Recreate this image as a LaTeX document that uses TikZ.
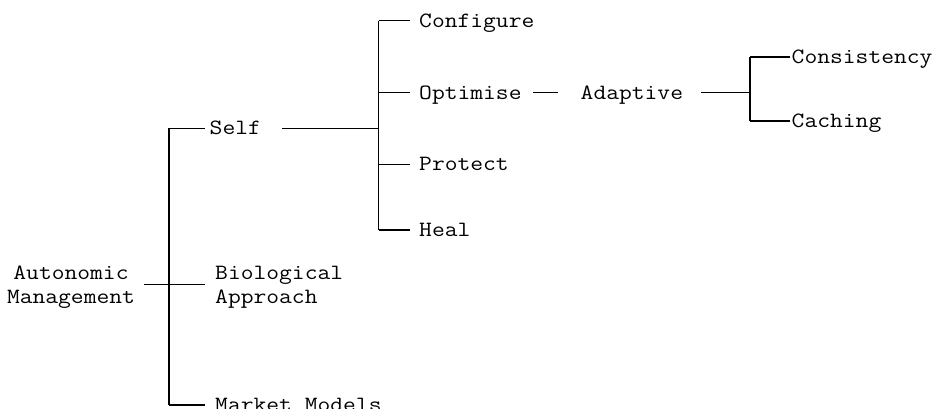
\documentclass[tikz,border=0pt]{standalone}
\usepackage{fontspec}
\setmonofont{Latin Modern Mono}[FakeStretch=1.14]
\begin{document}
\begin{tikzpicture}[x=1pt,y=-1pt,
  every node/.style={font=\ttfamily\fontsize{21.8pt}{24pt}\selectfont, inner sep=0pt},
  leaf/.style={anchor=west, text height=13pt, text depth=0pt},
  block/.style={align=left, anchor=west},
  conn/.style={line width=1.4pt}]
\useasboundingbox (0,0) rectangle (932,409);
\clip (0,0) rectangle (932,409);

% tree labels
\node[align=center] (root) at (71,287) {Autonomic\\Management};
\node[leaf] (self) at (209.5,128.3) {Self};
\node[block] (bio) at (215,287) {Biological\\Approach};
\node[leaf] (market) at (215,405) {Market Models};
\node[leaf] (conf) at (419,20.7) {Configure};
\node[leaf] (opt) at (419,92.7) {Optimise};
\node[leaf] (prot) at (419,164.3) {Protect};
\node[leaf] (heal) at (419,230) {Heal};
\node[leaf] (adapt) at (580.5,92.7) {Adaptive};
\node[leaf] (cons) at (791.5,57) {Consistency};
\node[leaf] (cach) at (791.5,121) {Caching};

% junction points of the brackets
\coordinate (jr) at (169,284.3);
\coordinate (js) at (378.7,128.3);
\coordinate (ja) at (750,92.7);

% first level
\draw[conn] (jr |- self.west) -- (jr |- market.west);
\draw[conn] ([xshift=8.8pt]root.east |- jr) -- ([xshift=-10pt]bio.west |- jr);
\draw[conn, shorten >=4.5pt] (jr |- self.west) -- (self.west);
\draw[conn, shorten >=10pt] (jr |- market.west) -- (market.west);

% second level
\draw[conn] ([xshift=21pt]self.east) -- (js);
\draw[conn] (js |- conf.west) -- (js |- heal.west);
\draw[conn, shorten >=9pt] (js |- conf.west) -- (conf.west);
\draw[conn, shorten >=9pt] (js |- opt.west) -- (opt.west);
\draw[conn, shorten >=9pt] (js |- prot.west) -- (prot.west);
\draw[conn, shorten >=9pt] (js |- heal.west) -- (heal.west);

% third level
\draw[conn] ([xshift=11.6pt]opt.east) -- ([xshift=-22.5pt]adapt.west);
\draw[conn] ([xshift=18.1pt]adapt.east) -- (ja);
\draw[conn] (ja |- cons.west) -- (ja |- cach.west);
\draw[conn, shorten >=1.5pt] (ja |- cons.west) -- (cons.west);
\draw[conn, shorten >=1.5pt] (ja |- cach.west) -- (cach.west);
\end{tikzpicture}
\end{document}
